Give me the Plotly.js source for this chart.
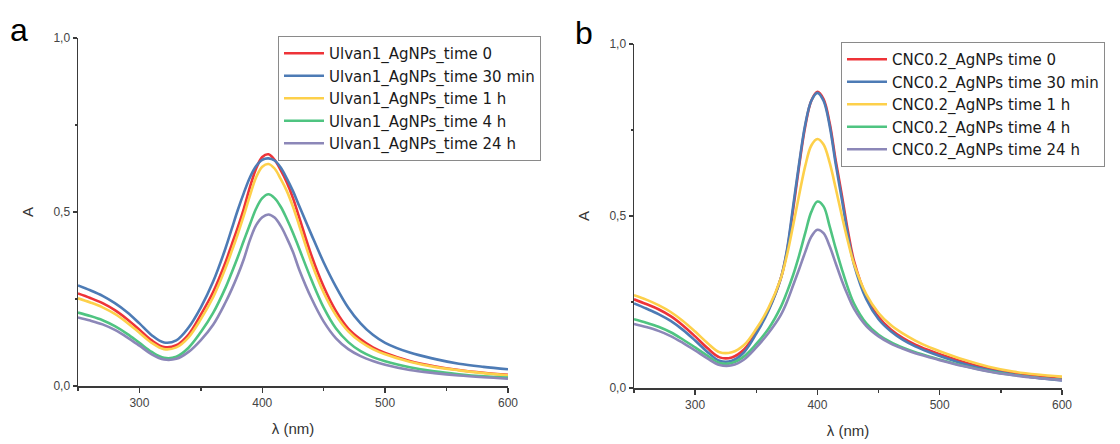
<!DOCTYPE html>
<html>
<head>
<meta charset="utf-8">
<script src="https://cdn.plot.ly/plotly-3.0.1.min.js"></script>
<style>
  html, body { margin: 0; padding: 0; background: #ffffff; }
  #chart { width: 1120px; height: 444px; }
</style>
</head>
<body>
<div id="chart"></div>
<script>
// Wavelength grid (nm)
const wavelength = [250,260,270,280,290,300,310,320,330,340,350,360,370,375,380,385,390,395,400,405,410,415,420,425,430,440,450,460,470,480,490,500,520,540,560,580,600];

// Panel a: Ulvan1_AgNPs
const ulvanNames = ["Ulvan1_AgNPs_time 0","Ulvan1_AgNPs_time 30 min","Ulvan1_AgNPs_time 1 h","Ulvan1_AgNPs_time 4 h","Ulvan1_AgNPs_time 24 h"];
const ulvan_t0   = [0.266,0.253,0.238,0.218,0.192,0.162,0.131,0.112,0.117,0.148,0.205,0.270,0.355,0.405,0.455,0.510,0.572,0.625,0.658,0.666,0.650,0.620,0.585,0.540,0.485,0.375,0.285,0.215,0.165,0.134,0.111,0.095,0.072,0.057,0.046,0.038,0.032];
const ulvan_30m  = [0.289,0.275,0.259,0.238,0.212,0.180,0.146,0.125,0.131,0.168,0.226,0.300,0.395,0.450,0.505,0.555,0.600,0.632,0.650,0.654,0.648,0.628,0.596,0.560,0.518,0.435,0.355,0.285,0.225,0.180,0.147,0.124,0.096,0.078,0.064,0.055,0.048];
const ulvan_1h   = [0.252,0.240,0.226,0.207,0.182,0.153,0.124,0.106,0.111,0.140,0.192,0.255,0.338,0.386,0.436,0.490,0.548,0.600,0.630,0.638,0.625,0.595,0.560,0.515,0.462,0.355,0.268,0.203,0.157,0.127,0.106,0.091,0.070,0.055,0.045,0.037,0.031];
const ulvan_4h   = [0.211,0.201,0.189,0.172,0.150,0.124,0.098,0.081,0.084,0.110,0.155,0.210,0.282,0.325,0.370,0.418,0.465,0.510,0.540,0.551,0.540,0.515,0.480,0.440,0.395,0.305,0.225,0.165,0.126,0.100,0.083,0.071,0.054,0.042,0.034,0.028,0.024];
const ulvan_24h  = [0.197,0.188,0.177,0.161,0.140,0.116,0.091,0.076,0.078,0.098,0.132,0.176,0.240,0.277,0.318,0.365,0.420,0.462,0.485,0.493,0.484,0.460,0.425,0.385,0.335,0.252,0.185,0.137,0.106,0.086,0.072,0.061,0.046,0.037,0.030,0.025,0.021];

// Panel b: CNC0.2_AgNPs
const cncNames = ["CNC0.2_AgNPs time 0","CNC0.2_AgNPs time 30 min","CNC0.2_AgNPs time 1 h","CNC0.2_AgNPs time 4 h","CNC0.2_AgNPs time 24 h"];
const cnc_t0   = [0.258,0.244,0.229,0.209,0.182,0.150,0.116,0.089,0.089,0.112,0.163,0.228,0.318,0.395,0.515,0.645,0.760,0.835,0.861,0.840,0.770,0.660,0.560,0.455,0.368,0.266,0.206,0.170,0.145,0.126,0.111,0.098,0.075,0.056,0.043,0.033,0.026];
const cnc_30m  = [0.246,0.231,0.215,0.195,0.169,0.138,0.105,0.079,0.079,0.104,0.158,0.225,0.318,0.400,0.525,0.652,0.765,0.835,0.858,0.835,0.762,0.650,0.548,0.443,0.358,0.258,0.200,0.165,0.140,0.121,0.106,0.093,0.070,0.052,0.039,0.029,0.022];
const cnc_1h   = [0.270,0.257,0.241,0.221,0.195,0.164,0.131,0.104,0.104,0.125,0.172,0.233,0.318,0.385,0.470,0.560,0.645,0.705,0.724,0.708,0.655,0.580,0.500,0.425,0.360,0.272,0.218,0.183,0.158,0.138,0.121,0.107,0.082,0.062,0.048,0.039,0.033];
const cnc_4h   = [0.200,0.190,0.178,0.162,0.141,0.118,0.094,0.073,0.073,0.092,0.128,0.172,0.235,0.278,0.327,0.385,0.450,0.512,0.542,0.528,0.470,0.405,0.345,0.290,0.245,0.188,0.155,0.133,0.117,0.104,0.093,0.083,0.064,0.049,0.038,0.030,0.024];
const cnc_24h  = [0.186,0.177,0.166,0.151,0.131,0.109,0.086,0.067,0.066,0.083,0.118,0.160,0.212,0.250,0.297,0.345,0.395,0.440,0.460,0.450,0.412,0.362,0.312,0.268,0.230,0.180,0.150,0.129,0.114,0.101,0.091,0.081,0.063,0.048,0.037,0.029,0.023];

const seriesColors = ["#ee3338","#4d7bb5","#fdd04a","#4fc481","#8c87b8"];

const ulvanSeries = [ulvan_t0, ulvan_30m, ulvan_1h, ulvan_4h, ulvan_24h];
const cncSeries = [cnc_t0, cnc_30m, cnc_1h, cnc_4h, cnc_24h];

const traces = [];
ulvanSeries.forEach((ys, i) => {
  traces.push({
    type: 'scatter', mode: 'lines', x: wavelength, y: ys, name: ulvanNames[i],
    line: {color: seriesColors[i], width: 2.6, shape: 'spline', smoothing: 1},
    xaxis: 'x', yaxis: 'y', legend: 'legend', hoverinfo: 'skip'
  });
});
cncSeries.forEach((ys, i) => {
  traces.push({
    type: 'scatter', mode: 'lines', x: wavelength, y: ys, name: cncNames[i],
    line: {color: seriesColors[i], width: 2.6, shape: 'spline', smoothing: 1},
    xaxis: 'x2', yaxis: 'y2', legend: 'legend2', hoverinfo: 'skip'
  });
});

const W = 1120, H = 444;
const tickFont = {family: 'Liberation Sans, Arial, sans-serif', size: 12, color: '#444444'};
const titleFont = {family: 'Liberation Sans, Arial, sans-serif', size: 15, color: '#333333'};

function xAxis(domain, anchor) {
  return {
    domain: domain, anchor: anchor, range: [250, 600], tick0: 0, dtick: 100,
    showgrid: false, zeroline: false, showline: true, linecolor: '#3a3a3a', linewidth: 1.5,
    ticks: 'outside', ticklen: 5, tickwidth: 1.5, tickcolor: '#3a3a3a',
    minor: {dtick: 50, tick0: 0, ticks: 'outside', ticklen: 3, tickwidth: 1.5, tickcolor: '#3a3a3a'},
    tickfont: tickFont, automargin: false, fixedrange: true,
    title: {text: 'λ (nm)', font: titleFont, standoff: 14}
  };
}
function yAxis(domain, anchor) {
  return {
    domain: domain, anchor: anchor, range: [0, 1.0], tick0: 0, dtick: 0.5, tickformat: '.1f',
    showgrid: false, zeroline: false, showline: true, linecolor: '#3a3a3a', linewidth: 1.5,
    ticks: 'outside', ticklen: 4, tickwidth: 1.5, tickcolor: '#3a3a3a',
    minor: {dtick: 0.25, tick0: 0, ticks: 'outside', ticklen: 2, tickwidth: 1.2, tickcolor: '#3a3a3a'},
    tickfont: tickFont, automargin: false, fixedrange: true,
    title: {text: 'A', font: titleFont, standoff: 16}
  };
}

const legendFont = {family: 'DejaVu Sans, sans-serif', size: 15, color: '#1a1a1a'};

const layout = {
  width: W, height: H,
  margin: {l: 0, r: 0, t: 0, b: 0},
  paper_bgcolor: '#ffffff', plot_bgcolor: '#ffffff',
  separators: ',.',
  showlegend: true,
  xaxis: xAxis([78 / W, 508 / W], 'y'),
  yaxis: yAxis([1 - 386 / H, 1 - 38 / H], 'x'),
  xaxis2: xAxis([634 / W, 1062 / W], 'y2'),
  yaxis2: yAxis([1 - 388 / H, 1 - 44 / H], 'x2'),
  legend: {
    x: 278 / W, y: 1 - 36 / H, xanchor: 'left', yanchor: 'top',
    bgcolor: '#ffffff', bordercolor: '#8a8a8a', borderwidth: 1,
    font: legendFont, itemwidth: 40, tracegroupgap: 0
  },
  legend2: {
    x: 841 / W, y: 1 - 42 / H, xanchor: 'left', yanchor: 'top',
    bgcolor: '#ffffff', bordercolor: '#8a8a8a', borderwidth: 1,
    font: legendFont, itemwidth: 40, tracegroupgap: 0
  },
  annotations: [
    {text: 'a', xref: 'paper', yref: 'paper', x: 8 / W, y: 1 - 10 / H, xanchor: 'left', yanchor: 'top',
     showarrow: false, font: {family: 'Liberation Sans, Arial, sans-serif', size: 32, color: '#000000'}},
    {text: 'b', xref: 'paper', yref: 'paper', x: 573 / W, y: 1 - 13 / H, xanchor: 'left', yanchor: 'top',
     showarrow: false, font: {family: 'Liberation Sans, Arial, sans-serif', size: 32, color: '#000000'}}
  ]
};

Plotly.newPlot('chart', traces, layout, {staticPlot: true, displayModeBar: false});
</script>
</body>
</html>
